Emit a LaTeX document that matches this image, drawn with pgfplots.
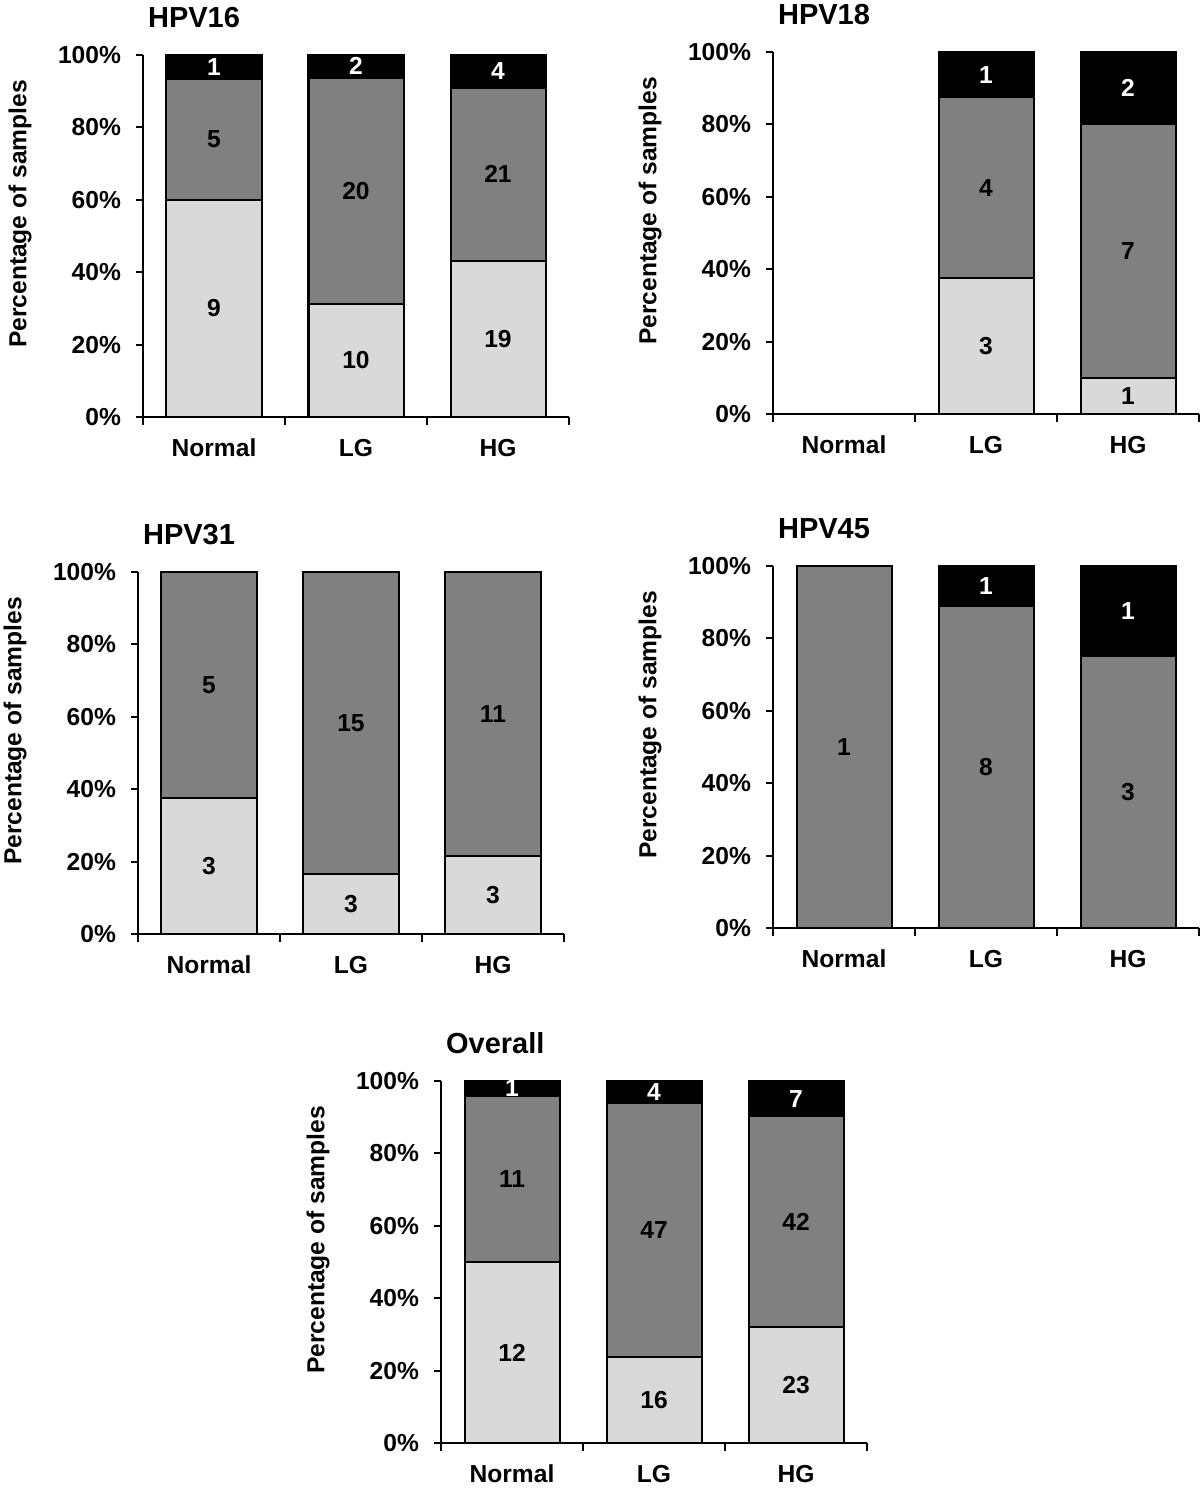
\documentclass[border=0pt]{standalone}
\usepackage{pgfplots}
\pgfplotsset{compat=1.18}
\usepackage{fontspec}
\setmainfont{Liberation Sans}
\definecolor{lightg}{HTML}{D9D9D9}
\definecolor{midg}{HTML}{808080}
\newcommand{\lblfont}{\bfseries\fontsize{12.3}{14}\selectfont}
\pgfplotsset{
  base/.style={
    scale only axis, width=213pt, height=181pt,
    anchor=south west,
    xmin=-0.5, xmax=2.5, ymin=0, ymax=100,
  },
  panel/.style={
    base,
    ybar stacked, bar width=47.5pt,
    axis x line*=bottom, axis y line*=left,
    x axis line style={-, line width=1pt},
    y axis line style={-, line width=1pt},
    tick align=outside,
    ytick={0,20,40,60,80,100},
    yticklabels={0\%,20\%,40\%,60\%,80\%,100\%},
    xtick={0,1,2},
    xticklabels={Normal,LG,HG},
    minor xtick={-0.5,0.5,1.5,2.5},
    major x tick style={draw=none},
    minor x tick style={line width=1pt, black},
    major y tick style={line width=1pt, black},
    major tick length=3.5pt,
    minor tick length=4pt,
    every tick label/.append style={font=\lblfont},
    xticklabel style={yshift=-4pt},
    yticklabel style={xshift=-4pt},
    ylabel={Percentage of samples},
    every axis y label/.style={at={(axis description cs:0,0.5)}, xshift=-61.5pt, yshift=11pt, rotate=90, anchor=center, font=\lblfont},
    every axis title/.style={at={(axis description cs:0,1)}, anchor=base west, xshift=-1pt, yshift=13.5pt, font=\bfseries\fontsize{14.5}{16}\selectfont},
  },
  lab/.style={base, hide axis},
  lightbar/.style={fill=lightg, draw=black, line width=1pt},
  midbar/.style={fill=midg, draw=black, line width=1pt},
  darkbar/.style={fill=black, draw=black, line width=1pt},
  blk/.style={draw=none, nodes near coords, point meta=explicit symbolic,
    every node near coord/.append style={anchor=center, font=\lblfont, text=black}},
  wht/.style={draw=none, nodes near coords, point meta=explicit symbolic,
    every node near coord/.append style={anchor=center, font=\lblfont, text=white}},
}
\begin{document}
\begin{tikzpicture}
\useasboundingbox (0,0) rectangle (600pt,744pt);
% HPV16
\begin{axis}[panel, at={(71.5pt,535.5pt)}, title={HPV16}]
\addplot[lightbar] coordinates {(0,60) (1,31.25) (2,43.18)};
\addplot[midbar] coordinates {(0,33.33) (1,62.5) (2,47.73)};
\addplot[darkbar] coordinates {(0,6.67) (1,6.25) (2,9.09)};
\end{axis}
\begin{axis}[lab, at={(71.5pt,535.5pt)}]
\addplot[blk] coordinates {(0,30)[9] (0,76.67)[5] (1,15.63)[10] (1,62.5)[20] (2,21.59)[19] (2,67.05)[21]};
\addplot[wht] coordinates {(0,96.67)[1] (1,96.88)[2] (2,95.45)[4]};
\end{axis}
% HPV18
\begin{axis}[panel, at={(386.5pt,537pt)}, title={HPV18}]
\addplot[lightbar] coordinates {(0,0) (1,37.5) (2,10)};
\addplot[midbar] coordinates {(0,0) (1,50) (2,70)};
\addplot[darkbar] coordinates {(0,0) (1,12.5) (2,20)};
\end{axis}
\begin{axis}[lab, at={(386.5pt,537pt)}]
\addplot[blk] coordinates {(1,18.75)[3] (1,62.5)[4] (2,5)[1] (2,45)[7]};
\addplot[wht] coordinates {(1,93.75)[1] (2,90)[2]};
\end{axis}
% HPV31
\begin{axis}[panel, at={(69pt,277pt)}, title={HPV31}]
\addplot[lightbar] coordinates {(0,37.5) (1,16.67) (2,21.43)};
\addplot[midbar] coordinates {(0,62.5) (1,83.33) (2,78.57)};
\end{axis}
\begin{axis}[lab, at={(69pt,277pt)}]
\addplot[blk] coordinates {(0,18.75)[3] (0,68.75)[5] (1,8.33)[3] (1,58.33)[15] (2,10.71)[3] (2,60.71)[11]};
\end{axis}
% HPV45
\begin{axis}[panel, at={(386.5pt,280pt)}, title={HPV45}]
\addplot[midbar] coordinates {(0,100) (1,88.89) (2,75)};
\addplot[darkbar] coordinates {(0,0) (1,11.11) (2,25)};
\end{axis}
\begin{axis}[lab, at={(386.5pt,280pt)}]
\addplot[blk] coordinates {(0,50)[1] (1,44.44)[8] (2,37.5)[3]};
\addplot[wht] coordinates {(1,94.44)[1] (2,87.5)[1]};
\end{axis}
% Overall
\begin{axis}[panel, at={(220.5pt,22.5pt)}, title={Overall}]
\addplot[lightbar] coordinates {(0,50) (1,23.88) (2,31.94)};
\addplot[midbar] coordinates {(0,45.83) (1,70.15) (2,58.33)};
\addplot[darkbar] coordinates {(0,4.17) (1,5.97) (2,9.72)};
\end{axis}
\begin{axis}[lab, at={(220.5pt,22.5pt)}]
\addplot[blk] coordinates {(0,25)[12] (0,72.92)[11] (1,11.94)[16] (1,58.96)[47] (2,15.97)[23] (2,61.11)[42]};
\addplot[wht] coordinates {(0,97.92)[1] (1,97.01)[4] (2,95.14)[7]};
\end{axis}
\end{tikzpicture}
\end{document}
